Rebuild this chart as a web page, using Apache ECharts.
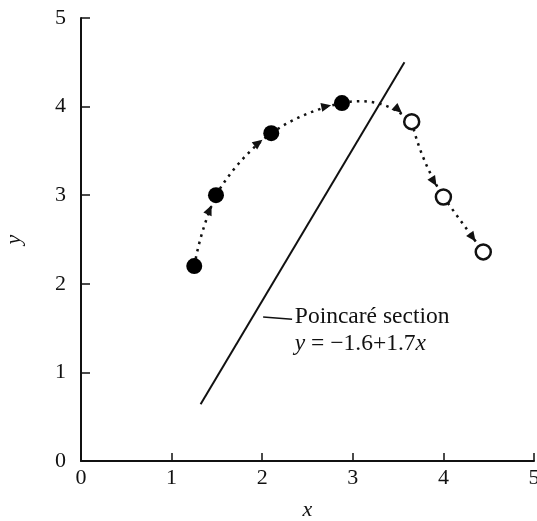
<!DOCTYPE html>
<html>
<head>
<meta charset="utf-8">
<script src="https://cdn.jsdelivr.net/npm/echarts@6/dist/echarts.min.js"></script>
<style>html,body{margin:0;padding:0;background:#fff}#c{width:537px;height:521px}</style>
</head>
<body>
<div id="c"></div>
<script>
// ---- data ----
const xTicks = [0, 1, 2, 3, 4, 5];
const yTicks = [0, 1, 2, 3, 4, 5];
const filledX = [1.25, 1.49, 2.10, 2.88];
const filledY = [2.20, 3.00, 3.70, 4.04];
const openX = [3.65, 4.00, 4.44];
const openY = [3.83, 2.98, 2.36];
const sectionX = [1.32, 3.57];
const sectionY = [0.64, 4.50];
const leaderX = [2.01, 2.33];
const leaderY = [1.625, 1.60];
const labelLines = ['Poincaré section', '{i|y} = −1.6+1.7{i|x}'];
const labelAnchor = [2.36, 1.625];

// ---- build ----
const trajX = filledX.concat(openX);
const trajY = filledY.concat(openY);
const trajBend = [0.06, 0.1, 0.1, 0.25, -0.08, 0.0];
const segIdx = trajX.slice(0, -1).map((_, i) => [i]);
const FONT = '"Liberation Serif", "DejaVu Serif", serif';
const INK = '#111';

const chart = echarts.init(document.getElementById('c'), null, {renderer: 'canvas'});
chart.setOption({
  animation: false,
  backgroundColor: '#fff',
  grid: {left: 81, right: 3, top: 18, bottom: 60, containLabel: false, outerBoundsMode: 'none'},
  xAxis: {
    type: 'value', min: xTicks[0], max: xTicks[xTicks.length - 1], interval: 1,
    name: 'x', nameLocation: 'middle', nameGap: 38,
    nameTextStyle: {fontFamily: FONT, fontStyle: 'italic', fontSize: 22, color: INK},
    axisLine: {show: true, onZero: false, lineStyle: {color: INK, width: 2}},
    axisTick: {show: true, inside: true, length: 8, lineStyle: {color: INK, width: 1.5}},
    axisLabel: {fontFamily: FONT, fontSize: 22, color: INK, margin: 6},
    splitLine: {show: false}
  },
  yAxis: {
    type: 'value', min: yTicks[0], max: yTicks[yTicks.length - 1], interval: 1,
    name: 'y', nameLocation: 'middle', nameGap: 56, nameRotate: 90,
    nameTextStyle: {fontFamily: FONT, fontStyle: 'italic', fontSize: 22, color: INK},
    axisLine: {show: true, onZero: false, lineStyle: {color: INK, width: 2}},
    axisTick: {show: true, inside: true, length: 9, lineStyle: {color: INK, width: 1.5}},
    axisLabel: {fontFamily: FONT, fontSize: 22, color: INK, margin: 15},
    splitLine: {show: false}
  },
  series: [
    {
      type: 'line', data: sectionX.map((x, i) => [x, sectionY[i]]),
      symbol: 'none', lineStyle: {color: INK, width: 2}, z: 2
    },
    {
      type: 'custom', z: 3, data: segIdx,
      renderItem: function (params, api) {
        const i = api.value(0);
        const p0 = api.coord([trajX[i], trajY[i]]);
        const p1 = api.coord([trajX[i + 1], trajY[i + 1]]);
        const dx = p1[0] - p0[0], dy = p1[1] - p0[1];
        const len = Math.hypot(dx, dy);
        const nx = dy / len, ny = -dx / len;
        const k = trajBend[i] * len;
        const c = [(p0[0] + p1[0]) / 2 + nx * k, (p0[1] + p1[1]) / 2 + ny * k];
        let ux = p1[0] - c[0], uy = p1[1] - c[1];
        const ul = Math.hypot(ux, uy); ux /= ul; uy /= ul;
        const d = (i + 1 >= filledX.length) ? 13 : 11;
        const tip = [p1[0] - ux * d, p1[1] - uy * d];
        const al = 10, aw = 4.5;
        const base = [tip[0] - ux * al, tip[1] - uy * al];
        const px = -uy, py = ux;
        return {
          type: 'group',
          children: [
            {
              type: 'bezierCurve',
              shape: {x1: p0[0], y1: p0[1], x2: p1[0], y2: p1[1], cpx1: c[0], cpy1: c[1]},
              style: {stroke: INK, lineWidth: 2.5, lineDash: [2.5, 5], fill: null}
            },
            {
              type: 'polygon',
              shape: {points: [tip, [base[0] + px * aw, base[1] + py * aw], [base[0] - px * aw, base[1] - py * aw]]},
              style: {fill: INK, stroke: null}
            }
          ]
        };
      }
    },
    {
      type: 'scatter', z: 5, data: filledX.map((x, i) => [x, filledY[i]]),
      symbol: 'circle', symbolSize: 16, itemStyle: {color: '#000', opacity: 1},
      emphasis: {disabled: true}
    },
    {
      type: 'scatter', z: 5, data: openX.map((x, i) => [x, openY[i]]),
      symbol: 'circle', symbolSize: 15,
      itemStyle: {color: '#fff', borderColor: INK, borderWidth: 2.5, opacity: 1},
      emphasis: {disabled: true}
    },
    {
      type: 'custom', z: 4, data: [[0]],
      renderItem: function (params, api) {
        const a = api.coord([leaderX[0], leaderY[0]]);
        const b = api.coord([leaderX[1], leaderY[1]]);
        const t = api.coord(labelAnchor);
        return {
          type: 'group',
          children: [
            {type: 'line', shape: {x1: a[0], y1: a[1], x2: b[0], y2: b[1]}, style: {stroke: INK, lineWidth: 1.5}},
            {type: 'text', x: t[0], y: t[1], style: {
              text: labelLines[0], font: '23.5px ' + FONT, fill: INK, align: 'left', verticalAlign: 'middle'}},
            {type: 'text', x: t[0], y: t[1] + 27, style: {
              text: labelLines[1], font: '23.5px ' + FONT, fill: INK, align: 'left', verticalAlign: 'middle',
              rich: {i: {fontStyle: 'italic', fontFamily: FONT, fontSize: 23.5, fill: INK}}}}
          ]
        };
      }
    }
  ]
});
</script>
</body>
</html>
